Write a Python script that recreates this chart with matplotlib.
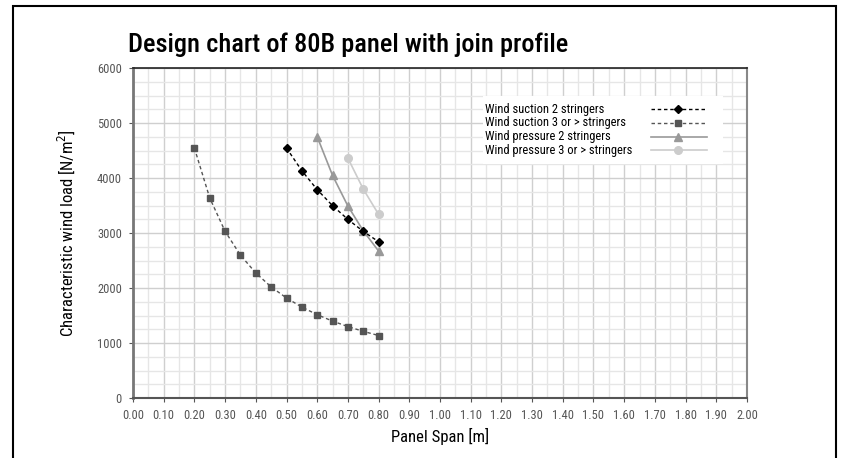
import numpy as np
import matplotlib.pyplot as plt
from matplotlib.patches import Rectangle
from matplotlib.lines import Line2D

plt.rcParams['font.family'] = ['Roboto Condensed', 'Liberation Sans Narrow', 'DejaVu Sans']
plt.rcParams['font.stretch'] = 'condensed'

# panel spans [m] and characteristic loads [N/m2]
span_s2 = [0.50, 0.55, 0.60, 0.65, 0.70, 0.75, 0.80]
load_s2 = [4545, 4132, 3788, 3497, 3247, 3030, 2841]

span_s3 = [0.20, 0.25, 0.30, 0.35, 0.40, 0.45, 0.50, 0.55, 0.60, 0.65, 0.70, 0.75, 0.80]
load_s3 = [4545, 3636, 3030, 2597, 2273, 2020, 1818, 1653, 1515, 1398, 1299, 1212, 1136]

span_p2 = [0.60, 0.65, 0.70, 0.75, 0.80]
load_p2 = [4750, 4047, 3490, 3040, 2672]

span_p3 = [0.70, 0.75, 0.80]
load_p3 = [4361, 3799, 3339]

labels = ["Wind suction 2 stringers", "Wind suction 3 or > stringers",
          "Wind pressure 2 stringers", "Wind pressure 3 or > stringers"]

fig = plt.figure(figsize=(8.43, 4.58), dpi=100)
ax = fig.add_axes([133 / 843, 1 - 398 / 458, 614 / 843, 330 / 458])

# outer frame
fig.patches.append(Rectangle((13 / 843, -0.1), 823 / 843, 1.1 - 6 / 458,
                             transform=fig.transFigure, fill=False,
                             edgecolor='black', linewidth=1.5))

styles = [
    dict(color='black', linestyle=(0, (2.5, 2)), linewidth=1, marker='D', markersize=4.2),
    dict(color='#555555', linestyle=(0, (2.5, 2)), linewidth=1, marker='s', markersize=5),
    dict(color='#999999', linestyle='-', linewidth=1.2, marker='^', markersize=6),
    dict(color='#cccccc', linestyle='-', linewidth=1.2, marker='o', markersize=5.5),
]
series = [(span_s2, load_s2), (span_s3, load_s3), (span_p2, load_p2), (span_p3, load_p3)]
for (xs, ys), st, z in zip(series, styles, [5, 4, 3, 3]):
    ax.plot(xs, ys, zorder=z, **st)

ax.set_xlim(0, 2.0)
ax.set_ylim(0, 6000)
ax.set_xticks(np.arange(0, 2.01, 0.1))
ax.set_xticklabels([f"{v:.2f}" for v in np.arange(0, 2.01, 0.1)])
ax.set_yticks(np.arange(0, 6001, 1000))
ax.set_xticks(np.arange(0, 2.01, 0.05), minor=True)
ax.set_yticks(np.arange(0, 6001, 250), minor=True)
ax.grid(which='major', color='#cfcfcf', linewidth=1)
ax.grid(which='minor', color='#e6e6e6', linewidth=1)
ax.set_axisbelow(True)
ax.tick_params(which='major', labelsize=9, labelcolor='#555555', length=3,
               color='#555555', pad=5)
ax.tick_params(which='minor', length=0)

for side, col, lw in [('left', '#777777', 2), ('bottom', '#555555', 1.5),
                      ('top', '#222222', 1.2), ('right', '#888888', 1.5)]:
    ax.spines[side].set_color(col)
    ax.spines[side].set_linewidth(lw)

ax.set_xlabel("Panel Span [m]", fontsize=12, labelpad=4)
ax.set_ylabel("Characteristic wind load [N/m$^2$]", fontsize=12, labelpad=14)

fig.text(128 / 843, 1 - 45 / 458, "Design chart of 80B panel with join profile",
         fontsize=19, fontweight='medium', va='center', ha='left')

# legend block: text on the left, line sample on the right
ax.add_patch(Rectangle((350 / 614, 1 - 96 / 330), 240 / 614, 68 / 330,
                       transform=ax.transAxes, facecolor='white',
                       edgecolor='none', zorder=6))
for i, (lab, st) in enumerate(zip(labels, styles)):
    yy = 1 - (41 + 13.8 * i) / 330
    ax.text(352 / 614, yy, lab, transform=ax.transAxes, fontsize=9,
            va='center', ha='left', zorder=7)
    ax.add_line(Line2D([518 / 614, 574 / 614], [yy, yy], transform=ax.transAxes,
                       color=st['color'], linestyle=st['linestyle'],
                       linewidth=st['linewidth'], zorder=7))
    ax.add_line(Line2D([545 / 614], [yy], transform=ax.transAxes,
                       color=st['color'], marker=st['marker'],
                       markersize=st['markersize'], linestyle='none', zorder=7))

fig.savefig("out.png", dpi=100)
